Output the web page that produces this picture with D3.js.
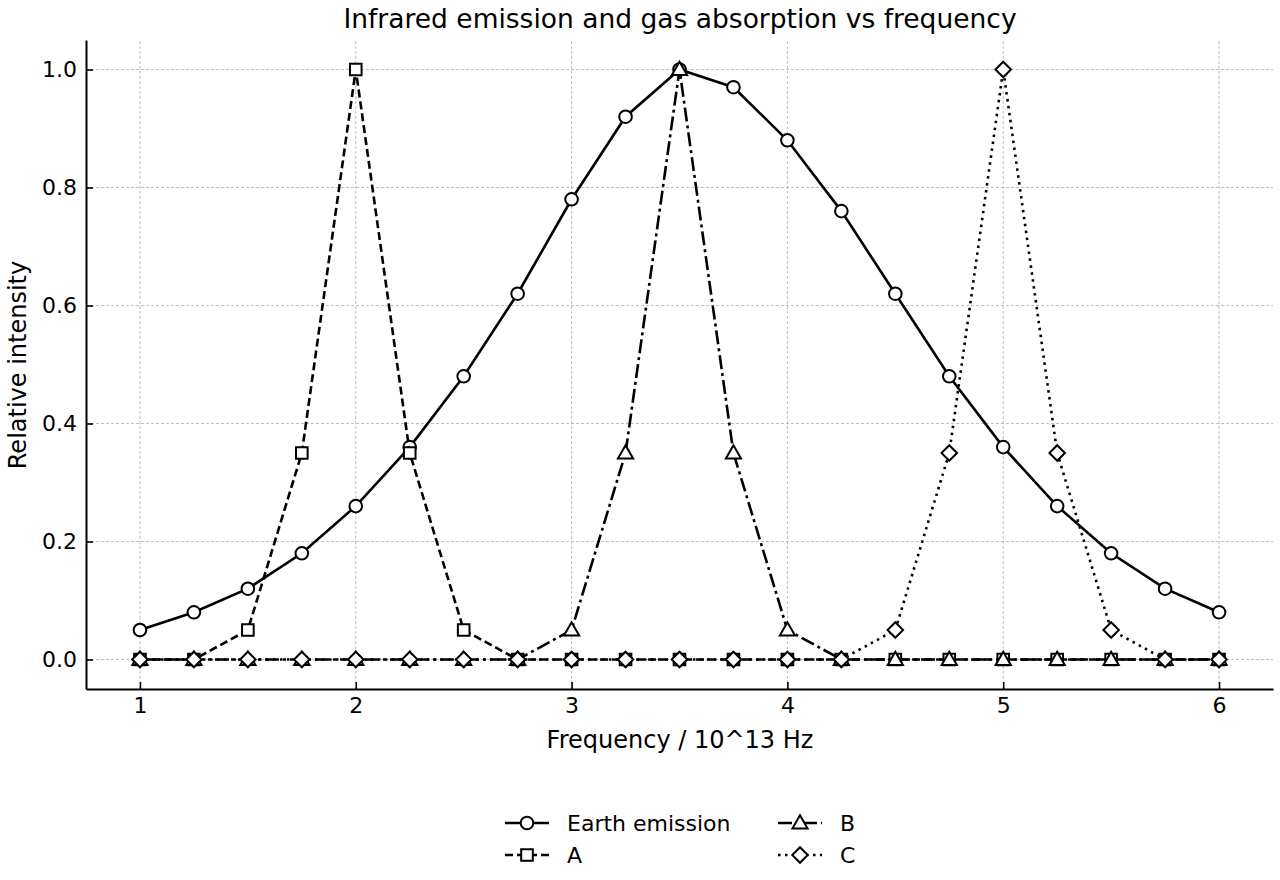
<!DOCTYPE html>
<html>
<head>
<meta charset="utf-8">
<script src="https://cdn.jsdelivr.net/npm/d3@7"></script>
<style>
  body { margin: 0; background: #fff; }
  svg { font-family: "DejaVu Sans", sans-serif; }
</style>
</head>
<body>
<svg width="1280" height="880"></svg>
<script>
const freqs = [1, 1.25, 1.5, 1.75, 2, 2.25, 2.5, 2.75, 3, 3.25, 3.5, 3.75, 4, 4.25, 4.5, 4.75, 5, 5.25, 5.5, 5.75, 6];
const earth = [0.05, 0.08, 0.12, 0.18, 0.26, 0.36, 0.48, 0.62, 0.78, 0.92, 1.0, 0.97, 0.88, 0.76, 0.62, 0.48, 0.36, 0.26, 0.18, 0.12, 0.08];
const gasA = [0, 0, 0.05, 0.35, 1.0, 0.35, 0.05, 0, 0, 0, 0, 0, 0, 0, 0, 0, 0, 0, 0, 0, 0];
const gasB = [0, 0, 0, 0, 0, 0, 0, 0, 0.05, 0.35, 1.0, 0.35, 0.05, 0, 0, 0, 0, 0, 0, 0, 0];
const gasC = [0, 0, 0, 0, 0, 0, 0, 0, 0, 0, 0, 0, 0, 0, 0.05, 0.35, 1.0, 0.35, 0.05, 0, 0];
const xTicks = [1, 2, 3, 4, 5, 6];
const yTicks = [0, 0.2, 0.4, 0.6, 0.8, 1.0];

const seriesList = [
  {name: 'Earth emission', values: earth, dash: null, marker: 'circle'},
  {name: 'A', values: gasA, dash: '8,4', marker: 'square'},
  {name: 'B', values: gasB, dash: '14,4,3,4', marker: 'triangle'},
  {name: 'C', values: gasC, dash: '2.5,4.5', marker: 'diamond'}
];

const svg = d3.select('svg');
const margin = {left: 86, right: 7, top: 40, bottom: 191};
const W = 1280, H = 880;

const x = d3.scaleLinear().domain([0.75, 6.25]).range([margin.left, W - margin.right]);
const y = d3.scaleLinear().domain([-0.05, 1.05]).range([H - margin.bottom, margin.top]);

// grid
const grid = svg.append('g').attr('class', 'grid');
grid.selectAll('line.gx').data(xTicks).enter().append('line')
  .attr('x1', d => x(d)).attr('x2', d => x(d))
  .attr('y1', y.range()[0]).attr('y2', y.range()[1])
  .attr('stroke', '#b0b0b0').attr('stroke-width', 0.8).attr('stroke-dasharray', '3,2');
grid.selectAll('line.gy').data(yTicks).enter().append('line')
  .attr('y1', d => y(d)).attr('y2', d => y(d))
  .attr('x1', x.range()[0]).attr('x2', x.range()[1])
  .attr('stroke', '#b0b0b0').attr('stroke-width', 0.8).attr('stroke-dasharray', '3,2');

// axes
const xAxis = svg.append('g')
  .attr('transform', `translate(0,${y.range()[0]})`)
  .call(d3.axisBottom(x).tickValues(xTicks).tickFormat(d3.format('d')).tickSizeInner(-7).tickSizeOuter(0).tickPadding(8));
const yAxis = svg.append('g')
  .attr('transform', `translate(${x.range()[0]},0)`)
  .call(d3.axisLeft(y).tickValues(yTicks).tickFormat(d3.format('.1f')).tickSizeInner(-7).tickSizeOuter(0).tickPadding(9));
[xAxis, yAxis].forEach(a => {
  a.attr('font-size', 22).attr('font-family', 'DejaVu Sans');
  a.select('.domain').attr('stroke', '#000').attr('stroke-width', 2);
  a.selectAll('.tick line').attr('stroke', '#000').attr('stroke-width', 1.6);
  a.selectAll('.tick text').attr('fill', '#000');
});

// marker shapes
const symbolFor = {
  circle: d3.symbol(d3.symbolCircle, 125),
  square: d3.symbol(d3.symbolSquare, 135),
  triangle: d3.symbol(d3.symbolTriangle, 100),
  diamond: d3.symbol(d3.symbolSquare, 120)
};
function drawMarker(g, kind) {
  const p = g.append('path').attr('d', symbolFor[kind]())
    .attr('fill', '#fff').attr('stroke', '#000').attr('stroke-width', 2);
  if (kind === 'diamond') p.attr('transform', 'rotate(45)');
  if (kind === 'triangle') p.attr('transform', 'translate(0,1)');
}

const line = d3.line().x((d, i) => x(freqs[i])).y(d => y(d));

const plot = svg.append('g').attr('class', 'series');
seriesList.forEach(s => {
  const g = plot.append('g');
  g.append('path').datum(s.values)
    .attr('d', line)
    .attr('fill', 'none').attr('stroke', '#000').attr('stroke-width', 2.6)
    .attr('stroke-dasharray', s.dash);
  g.selectAll('g.pt').data(s.values).enter().append('g')
    .attr('transform', (d, i) => `translate(${x(freqs[i])},${y(d)})`)
    .each(function() { drawMarker(d3.select(this), s.marker); });
});

// title and labels
svg.append('text').attr('x', 680).attr('y', 28).attr('text-anchor', 'middle')
  .attr('font-size', 26.5).text('Infrared emission and gas absorption vs frequency');
svg.append('text').attr('x', 680).attr('y', 748).attr('text-anchor', 'middle')
  .attr('font-size', 24).text('Frequency / 10^13 Hz');
svg.append('text').attr('transform', 'translate(26,365) rotate(-90)').attr('text-anchor', 'middle')
  .attr('font-size', 24).text('Relative intensity');

// legend
const legendPos = [
  {x: 505, y: 823}, {x: 505, y: 855}, {x: 778, y: 823}, {x: 778, y: 855}
];
const legend = svg.append('g').attr('class', 'legend');
seriesList.forEach((s, i) => {
  const p = legendPos[i];
  const g = legend.append('g').attr('transform', `translate(${p.x},${p.y})`);
  g.append('line').attr('x1', 0).attr('x2', 44).attr('y1', 0).attr('y2', 0)
    .attr('stroke', '#000').attr('stroke-width', 2.6).attr('stroke-dasharray', s.dash);
  const m = g.append('g').attr('transform', 'translate(22,0)');
  drawMarker(m, s.marker);
  g.append('text').attr('x', 62).attr('y', 8).attr('font-size', 22).text(s.name);
});
</script>
</body>
</html>
